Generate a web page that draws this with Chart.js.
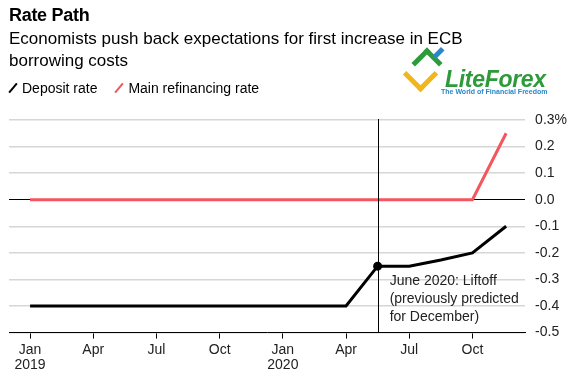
<!DOCTYPE html>
<html>
<head>
<meta charset="utf-8">
<script src="https://cdn.jsdelivr.net/npm/chart.js@4.4.0/dist/chart.umd.min.js"></script>
<style>
  html, body { margin: 0; padding: 0; background: #fff; }
  body { width: 581px; height: 372px; position: relative; overflow: hidden; font-family: "Liberation Sans", Arial, sans-serif; color: #000; }
  #wrap { position: absolute; left: 0; top: 0; width: 581px; height: 372px; }
  .title { position: absolute; left: 9px; top: 5px; font-size: 18px; font-weight: bold; letter-spacing: -0.3px; }
  .sub { position: absolute; left: 9px; top: 28px; font-size: 17px; line-height: 22px; }
  .legend { position: absolute; left: 9px; top: 80px; font-size: 14px; }
  .legend span { display: inline-block; margin-right: 14px; }
  .legend i { display: inline-block; width: 2px; height: 12px; transform: rotate(40deg); margin: 0 8px -1px 3px; }
  .logo { position: absolute; left: 403px; top: 46px; width: 155px; height: 52px; }
  .logo .word { position: absolute; left: 42px; top: 20px; font: italic bold 23px "Liberation Sans", Arial, sans-serif; color: #2e9a3c; letter-spacing: -0.3px; }
  .logo .tag { position: absolute; left: 38px; top: 42px; font: bold 7px "Liberation Sans", Arial, sans-serif; color: #2a86c9; white-space: nowrap; }
  .logo .ic1 { position: absolute; left: 5px; top: 16px; width: 20px; height: 20px; border: 5px solid #f2b51d; border-top: none; border-right: none; transform: rotate(-45deg); }
  .logo .ic2 { position: absolute; left: 13px; top: 6px; width: 17px; height: 17px; border: 5px solid #2e9a3c; border-bottom: none; border-left: none; transform: rotate(-45deg); }
  .logo .ic3 { position: absolute; left: 33px; top: 1px; width: 5px; height: 12px; background: #2a86c9; transform: rotate(45deg); }
</style>
</head>
<body>
<div id="wrap"><canvas id="chart" width="581" height="372"></canvas></div>
<div class="title">Rate Path</div>
<div class="sub">Economists push back expectations for first increase in ECB<br>borrowing costs</div>
<div class="legend">
  <span><i style="background:#000"></i>Deposit rate</span>
  <span><i style="background:#f4555e"></i>Main refinancing rate</span>
</div>
<div class="logo">
  <div class="ic1"></div><div class="ic2"></div><div class="ic3"></div>
  <div class="word">LiteForex</div>
  <div class="tag">The World of Financial Freedom</div>
</div>
<script>
// months counted from Jan 2019
const depositMonths = [0, 15, 16.5, 18, 19.5, 21, 22.6];
const depositRates = [-0.4, -0.4, -0.25, -0.25, -0.227, -0.2, -0.1];
const refiMonths = [0, 21, 22.6];
const refiRates = [0, 0, 0.25];

const liftoffMonth = 16.5;
const liftoffRate = -0.25;
const liftoffNote = ['June 2020: Liftoff', '(previously predicted', 'for December)'];

const tickMonths = [0, 3, 6, 9, 12, 15, 18, 21];
const tickLabels = [['Jan', '2019'], 'Apr', 'Jul', 'Oct', ['Jan', '2020'], 'Apr', 'Jul', 'Oct'];

const toPoints = (xs, ys) => xs.map((x, i) => ({ x: x, y: ys[i] }));

const annotationPlugin = {
  id: 'liftoff',
  afterDatasetsDraw(chart) {
    const { ctx, chartArea, scales } = chart;
    const px = scales.x.getPixelForValue(liftoffMonth);
    ctx.save();
    ctx.strokeStyle = '#000';
    ctx.lineWidth = 1;
    ctx.beginPath();
    ctx.moveTo(Math.round(px) + 0.5, chartArea.top - 1);
    ctx.lineTo(Math.round(px) + 0.5, chartArea.bottom);
    ctx.stroke();
    ctx.fillStyle = '#222';
    ctx.font = '14px "Liberation Sans", Arial, sans-serif';
    ctx.textBaseline = 'middle';
    const ty = scales.y.getPixelForValue(-0.3) + 2;
    liftoffNote.forEach((line, i) => {
      ctx.fillText(line, px + 12, ty + i * 18);
    });
    ctx.restore();
  }
};

new Chart(document.getElementById('chart'), {
  type: 'line',
  data: {
    datasets: [
      {
        label: 'Liftoff',
        data: [{ x: liftoffMonth, y: liftoffRate }],
        showLine: false,
        pointRadius: 4.5,
        pointBackgroundColor: '#000',
        pointBorderWidth: 0,
        order: 0
      },
      {
        label: 'Deposit rate',
        data: toPoints(depositMonths, depositRates),
        borderColor: '#000',
        borderWidth: 3,
        pointRadius: 0,
        order: 1
      },
      {
        label: 'Main refinancing rate',
        data: toPoints(refiMonths, refiRates),
        borderColor: '#f4555e',
        borderWidth: 3,
        pointRadius: 0,
        order: 2
      }
    ]
  },
  options: {
    responsive: false,
    animation: false,
    layout: { padding: { top: 120, left: 9, right: 4, bottom: -4 } },
    plugins: { legend: { display: false }, tooltip: { enabled: false } },
    scales: {
      x: {
        type: 'linear',
        min: -1,
        max: 23.5,
        afterBuildTicks: (axis) => { axis.ticks = tickMonths.map(v => ({ value: v })); },
        ticks: {
          autoSkip: false,
          maxRotation: 0,
          color: '#222',
          padding: 4,
          font: { size: 14, lineHeight: 1.05, family: '"Liberation Sans", Arial, sans-serif' },
          callback: (v) => tickLabels[tickMonths.indexOf(v)]
        },
        grid: { drawOnChartArea: false, drawTicks: true, tickLength: 6, color: '#000' },
        border: { display: true, color: '#000', width: 1 }
      },
      y: {
        position: 'right',
        min: -0.5,
        max: 0.3,
        ticks: {
          stepSize: 0.1,
          color: '#222',
          padding: 10,
          font: { size: 14, family: '"Liberation Sans", Arial, sans-serif' },
          callback: (v) => {
            const r = Math.round(v * 10) / 10;
            if (Math.abs(r - 0.3) < 1e-6) return '0.3%';
            return (Math.abs(r) < 1e-6 ? 0 : r).toFixed(1);
          }
        },
        grid: {
          drawTicks: false,
          color: (c) => Math.abs(c.tick.value) < 1e-6 ? '#000' : '#d6d6d6',
          lineWidth: (c) => Math.abs(c.tick.value) < 1e-6 ? 1 : 1.5
        },
        border: { display: false }
      }
    }
  },
  plugins: [annotationPlugin]
});
</script>
</body>
</html>
